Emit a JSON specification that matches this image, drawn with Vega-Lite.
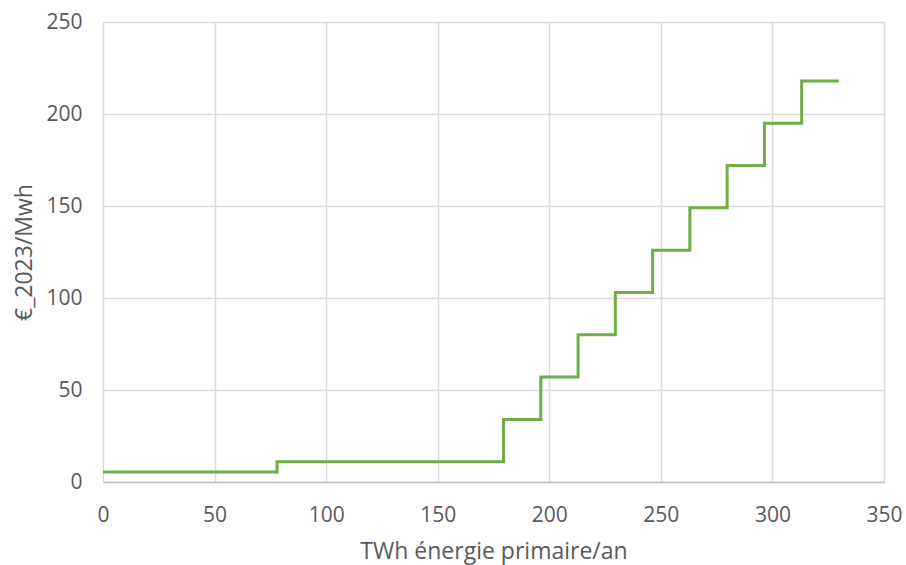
{
  "$schema": "https://vega.github.io/schema/vega-lite/v6.json",
  "width": 781,
  "height": 460,
  "autosize": {"type": "none"},
  "padding": {"left": 103, "top": 22, "right": 22, "bottom": 83},
  "background": "white",
  "config": {
    "view": {"stroke": null},
    "font": "Open Sans"
  },
  "data": {
    "values": [
      {"twh": 0, "prix": 5.5},
      {"twh": 78, "prix": 11},
      {"twh": 179.5, "prix": 34},
      {"twh": 196.2, "prix": 57},
      {"twh": 212.9, "prix": 80},
      {"twh": 229.6, "prix": 103},
      {"twh": 246.3, "prix": 126},
      {"twh": 263, "prix": 149},
      {"twh": 279.7, "prix": 172},
      {"twh": 296.4, "prix": 195},
      {"twh": 313.1, "prix": 218},
      {"twh": 329.8, "prix": 218}
    ]
  },
  "mark": {"type": "line", "interpolate": "step-after", "color": "#70AD47", "strokeWidth": 3},
  "encoding": {
    "x": {
      "field": "twh", "type": "quantitative",
      "scale": {"domain": [0, 350], "nice": false, "zero": true},
      "axis": {
        "values": [0, 50, 100, 150, 200, 250, 300, 350],
        "title": "TWh énergie primaire/an",
        "titleFont": "Open Sans", "titleFontSize": 23, "titleFontWeight": "normal", "titleColor": "#595959", "titlePadding": 15,
        "labelFont": "Open Sans", "labelFontSize": 21, "labelColor": "#595959", "labelPadding": 22,
        "grid": true, "gridColor": "#D9D9D9", "gridWidth": 1.5,
        "domain": true, "domainColor": "#BFBFBF", "domainWidth": 1.5,
        "ticks": false, "labelFlush": false
      }
    },
    "y": {
      "field": "prix", "type": "quantitative",
      "scale": {"domain": [0, 250], "nice": false},
      "axis": {
        "values": [0, 50, 100, 150, 200, 250],
        "title": "€_2023/Mwh",
        "titleFont": "Open Sans", "titleFontSize": 23, "titleFontWeight": "normal", "titleColor": "#595959", "titlePadding": 9,
        "labelFont": "Open Sans", "labelFontSize": 21, "labelColor": "#595959", "labelPadding": 21,
        "grid": true, "gridColor": "#D9D9D9", "gridWidth": 1.5,
        "domain": false, "ticks": false
      }
    }
  }
}
